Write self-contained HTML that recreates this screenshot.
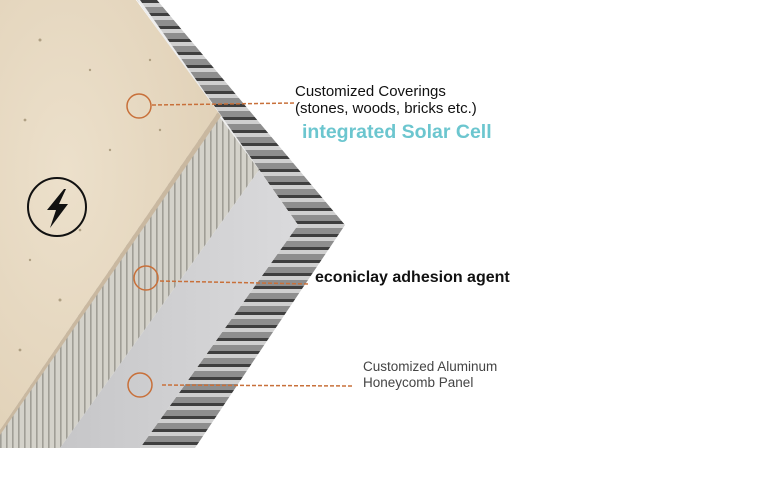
<!DOCTYPE html>
<html><head><meta charset="utf-8"><style>
html,body{margin:0;padding:0;background:#fff;width:768px;height:499px;overflow:hidden}
svg{display:block}
text{font-family:"Liberation Sans",sans-serif}
</style></head><body>
<svg width="768" height="499" viewBox="0 0 768 499" xmlns="http://www.w3.org/2000/svg">
<defs>
<pattern id="hc" width="20" height="13" patternUnits="userSpaceOnUse">
<rect width="20" height="13" fill="#8e8e8e"/>
<rect y="0" width="20" height="3" fill="#3f3f3f"/>
<rect y="3" width="20" height="4" fill="#cfcfcf"/>
</pattern>
<pattern id="gr" width="6" height="10" patternUnits="userSpaceOnUse">
<rect width="6" height="10" fill="#d4d2ca"/>
<rect x="0" width="1.6" height="10" fill="#a09e96"/>
</pattern>
<linearGradient id="al" x1="0" y1="0" x2="1" y2="0">
<stop offset="0" stop-color="#c6c6c8"/><stop offset="1" stop-color="#dadadc"/>
</linearGradient>
<radialGradient id="st" cx="0.3" cy="0.4" r="0.8">
<stop offset="0" stop-color="#ece0cb"/><stop offset="1" stop-color="#e0d0b6"/>
</radialGradient>
</defs>
<polygon points="137,0 157,0 345,225 195,448 140,448 298,225" fill="url(#hc)"/>
<polygon points="137,0 140,0 298,225 295,225" fill="#eee"/>
<polygon points="216,112 259,170 60,448 0,448 0,430" fill="url(#gr)"/>
<polygon points="259,170 298,225 140,448 60,448" fill="url(#al)"/>
<polygon points="0,0 136,0 218,112 0,430" fill="url(#st)"/>
<polygon points="218,112 221,116 0,435 0,430" fill="#c9b8a0"/>
<g fill="#8a7a5a" opacity="0.6">
<circle cx="40" cy="40" r="1.5"/><circle cx="90" cy="70" r="1.2"/><circle cx="25" cy="120" r="1.4"/><circle cx="110" cy="150" r="1.2"/><circle cx="60" cy="300" r="1.5"/><circle cx="30" cy="260" r="1.2"/><circle cx="150" cy="60" r="1.2"/><circle cx="80" cy="230" r="1.3"/><circle cx="20" cy="350" r="1.4"/><circle cx="160" cy="130" r="1.2"/>
</g>
<circle cx="57" cy="207" r="29" fill="none" stroke="#111" stroke-width="2"/>
<polygon points="64,189 47,210 56,210 50,228 68,204 59,204 66,189" fill="#111"/>
<g fill="none" stroke="#c8703a" stroke-width="1.5">
<circle cx="139" cy="106" r="12"/>
<circle cx="146" cy="278" r="12"/>
<circle cx="140" cy="385" r="12"/>
<g stroke-dasharray="4,2">
<line x1="152" y1="105" x2="295" y2="103"/>
<line x1="160" y1="281" x2="310" y2="284"/>
<line x1="162" y1="385" x2="352" y2="386"/>
</g>
</g>
<text x="295" y="96" font-size="15" fill="#111">Customized Coverings</text>
<text x="295" y="113" font-size="15" fill="#111">(stones, woods, bricks etc.)</text>
<text x="302" y="138" font-size="19.5" font-weight="bold" fill="#6cc6cf">integrated Solar Cell</text>
<text x="315" y="282" font-size="16" font-weight="bold" fill="#111">econiclay adhesion agent</text>
<text x="363" y="371" font-size="13.5" fill="#444">Customized Aluminum</text>
<text x="363" y="387" font-size="13.5" fill="#444">Honeycomb Panel</text>
</svg>
</body></html>
